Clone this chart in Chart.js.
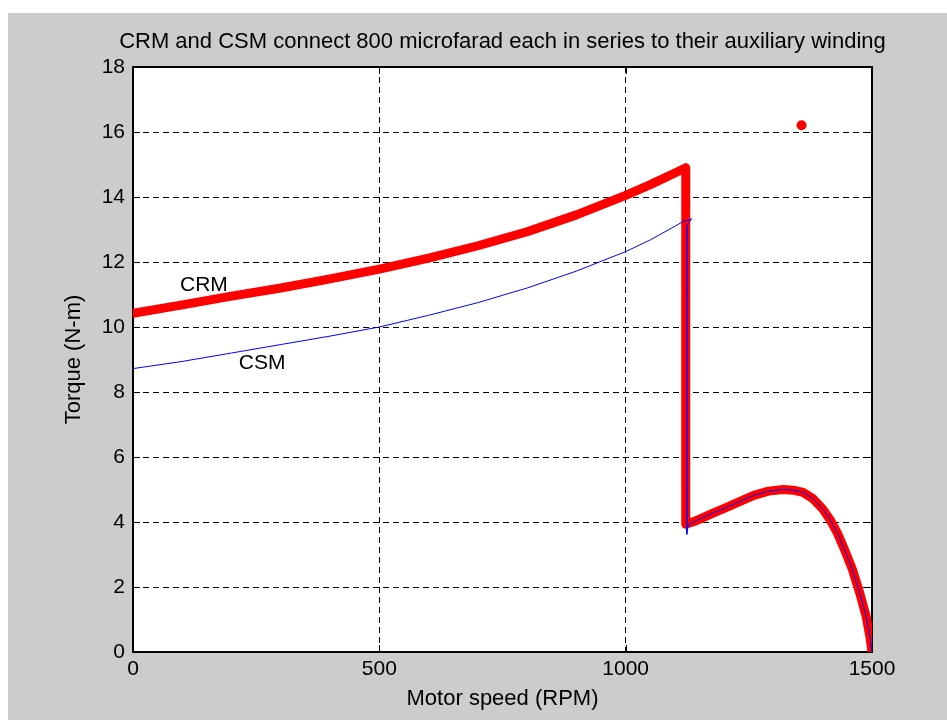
<!DOCTYPE html>
<html>
<head>
<meta charset="utf-8">
<script src="https://cdn.jsdelivr.net/npm/chart.js@4/dist/chart.umd.min.js"></script>
<style>
  html, body { margin: 0; padding: 0; background: #ffffff; }
  #wrap { width: 947px; height: 720px; }
</style>
</head>
<body>
<div id="wrap"><canvas id="torque" width="947" height="720"></canvas></div>
<script>
// Torque-speed curves, capacitor-run motor (CRM) and capacitor-start motor (CSM)
const crmSpeed  = [0, 100, 200, 300, 400, 500, 600, 700, 800, 900, 1000, 1050, 1100, 1122,
                   1122, 1140, 1175, 1200, 1230, 1260, 1290, 1320, 1340, 1360, 1380, 1400, 1415,
                   1430, 1445, 1460, 1475, 1488, 1496, 1500];
const crmTorque = [10.42, 10.68, 10.95, 11.20, 11.48, 11.78, 12.12, 12.50, 12.93, 13.45, 14.05, 14.38, 14.74, 14.90,
                   3.93, 4.02, 4.26, 4.42, 4.62, 4.82, 4.95, 5.00, 4.98, 4.91, 4.72, 4.40, 4.07,
                   3.65, 3.12, 2.55, 1.82, 1.10, 0.45, 0.00];

const csmSpeed  = [0, 100, 200, 300, 400, 500, 600, 700, 800, 900, 1000, 1050, 1100, 1116, 1134, 1124,
                   1124, 1127, 1140, 1175, 1200, 1230, 1260, 1290, 1320, 1340, 1360, 1380, 1400, 1415,
                   1430, 1445, 1460, 1475, 1488, 1496, 1500];
const csmTorque = [8.72, 8.94, 9.20, 9.46, 9.72, 10.00, 10.36, 10.75, 11.20, 11.72, 12.32, 12.68, 13.10, 13.24, 13.33, 13.12,
                   3.62, 3.90, 4.02, 4.26, 4.42, 4.62, 4.82, 4.95, 5.00, 4.98, 4.91, 4.72, 4.40, 4.07,
                   3.65, 3.12, 2.55, 1.82, 1.10, 0.45, 0.00];

// single marker above the curves
const markerSpeed  = [1357];
const markerTorque = [16.21];

// in-plot curve names, anchored in data units
const curveNames   = ['CRM', 'CSM'];
const nameSpeed    = [144, 262];
const nameTorque   = [11.29, 8.88];

const xTicks = [0, 500, 1000, 1500];
const yTicks = [0, 2, 4, 6, 8, 10, 12, 14, 16, 18];

const chartTitle = 'CRM and CSM connect 800 microfarad each in series to their auxiliary winding';

const FONT = "'Liberation Sans', Arial, Helvetica, sans-serif";

function pairs(xs, ys) { return xs.map((x, i) => ({ x: x, y: ys[i] })); }

// figure background, white axes box, frame, inward tick marks, title and curve names
const figurePlugin = {
  id: 'figure',
  beforeDraw(chart) {
    const { ctx, chartArea: a, width, height } = chart;
    ctx.save();
    ctx.fillStyle = '#ffffff';
    ctx.fillRect(0, 0, width, height);
    ctx.fillStyle = '#cccccc';
    ctx.fillRect(8, 13, width - 8, height - 13);
    ctx.fillStyle = '#ffffff';
    ctx.fillRect(a.left, a.top, a.right - a.left, a.bottom - a.top);
    ctx.fillStyle = '#000000';
    ctx.font = '22px ' + FONT;
    ctx.textAlign = 'center';
    ctx.textBaseline = 'alphabetic';
    ctx.fillText(chartTitle, (a.left + a.right) / 2, 48);
    ctx.restore();
  },
  beforeDatasetsDraw(chart) {
    const { ctx, chartArea: a, scales } = chart;
    const len = 7;
    ctx.save();
    ctx.strokeStyle = '#000000';
    ctx.lineWidth = 1;
    ctx.beginPath();
    xTicks.forEach(v => {
      const px = Math.round(scales.x.getPixelForValue(v)) + 0.5;
      ctx.moveTo(px, a.bottom); ctx.lineTo(px, a.bottom - len);
      ctx.moveTo(px, a.top); ctx.lineTo(px, a.top + len);
    });
    yTicks.forEach(v => {
      const py = Math.round(scales.y.getPixelForValue(v)) + 0.5;
      ctx.moveTo(a.left, py); ctx.lineTo(a.left + len, py);
      ctx.moveTo(a.right, py); ctx.lineTo(a.right - len, py);
    });
    ctx.stroke();
    ctx.lineWidth = 2;
    ctx.strokeRect(a.left, a.top, a.right - a.left, a.bottom - a.top);
    ctx.restore();
  },
  afterDatasetsDraw(chart) {
    const { ctx, scales } = chart;
    ctx.save();
    ctx.fillStyle = '#000000';
    ctx.font = '21px ' + FONT;
    ctx.textAlign = 'center';
    ctx.textBaseline = 'middle';
    curveNames.forEach((t, i) => {
      ctx.fillText(t, scales.x.getPixelForValue(nameSpeed[i]), scales.y.getPixelForValue(nameTorque[i]));
    });
    ctx.restore();
  }
};

new Chart(document.getElementById('torque'), {
  type: 'line',
  data: {
    datasets: [
      {
        label: 'CSM',
        data: pairs(csmSpeed, csmTorque),
        borderColor: '#0000ff',
        borderWidth: 1,
        pointRadius: 0,
        tension: 0,
        fill: false
      },
      {
        label: 'CRM',
        data: pairs(crmSpeed, crmTorque),
        borderColor: '#ff0000',
        borderWidth: 9,
        borderJoinStyle: 'round',
        borderCapStyle: 'round',
        pointRadius: 0,
        tension: 0,
        fill: false
      },
      {
        label: 'point',
        data: pairs(markerSpeed, markerTorque),
        showLine: false,
        pointRadius: 5,
        pointBackgroundColor: '#ff0000',
        pointBorderColor: '#ff0000',
        pointBorderWidth: 0
      }
    ]
  },
  options: {
    responsive: false,
    animation: false,
    devicePixelRatio: 1,
    layout: { padding: { left: 0, right: 75, top: 67, bottom: 0 } },
    plugins: {
      legend: { display: false },
      tooltip: { enabled: false },
      title: { display: false }
    },
    scales: {
      x: {
        type: 'linear',
        min: 0,
        max: 1500,
        afterFit(scale) { scale.height = 68; },
        afterBuildTicks(scale) { scale.ticks = xTicks.map(v => ({ value: v })); },
        ticks: {
          color: '#000000',
          font: { family: FONT, size: 21 },
          padding: 5,
          maxRotation: 0,
          autoSkip: false,
          callback: v => String(v)
        },
        grid: {
          color: '#000000',
          lineWidth: 1,
          drawTicks: false
        },
        border: { display: false, dash: [6, 4] },
        title: {
          display: true,
          text: 'Motor speed (RPM)',
          color: '#000000',
          font: { family: FONT, size: 22, lineHeight: 1.2 },
          padding: { top: 0, bottom: 7.8 }
        }
      },
      y: {
        type: 'linear',
        min: 0,
        max: 18,
        afterFit(scale) { scale.width = 133; },
        afterBuildTicks(scale) { scale.ticks = yTicks.map(v => ({ value: v })); },
        ticks: {
          color: '#000000',
          font: { family: FONT, size: 21 },
          padding: 8,
          autoSkip: false,
          callback: v => String(v)
        },
        grid: {
          color: '#000000',
          lineWidth: 1,
          drawTicks: false
        },
        border: { display: false, dash: [6, 4] },
        title: {
          display: true,
          text: 'Torque (N-m)',
          color: '#000000',
          font: { family: FONT, size: 22, lineHeight: 1.2 },
          padding: { top: 60.8, bottom: 0 }
        }
      }
    }
  },
  plugins: [figurePlugin]
});
</script>
</body>
</html>
